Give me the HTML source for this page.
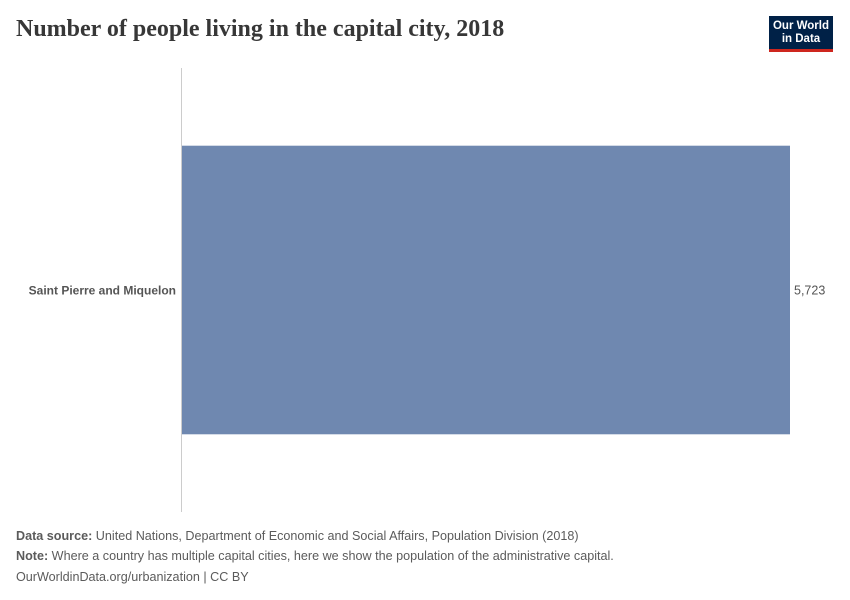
<!DOCTYPE html>
<html><head><meta charset="utf-8"><style>
body{margin:0;background:#fff;width:850px;height:600px;overflow:hidden;position:relative;font-family:"Liberation Sans",sans-serif}
.t{position:absolute;white-space:nowrap}
</style></head><body>
<div class="t" style="left:16px;top:16px;font-family:'Liberation Serif',serif;font-weight:bold;font-size:24px;color:#373737;">Number of people living in the capital city, 2018</div>
<div style="position:absolute;left:769px;top:16px;width:64px;height:36px;background:#002147;border-bottom:3px solid #ce261e;box-sizing:border-box;color:#fff;font-size:11.5px;font-weight:bold;line-height:13px;text-align:center;padding-top:4px;">Our World<br>in Data</div>
<svg id="chart" width="850" height="600" style="position:absolute;left:0;top:0"></svg>
<div class="t" style="left:16px;top:529px;font-size:12.6px;color:#5b5b5b"><b>Data source:</b> United Nations, Department of Economic and Social Affairs, Population Division (2018)</div>
<div class="t" style="left:16px;top:549px;font-size:12.6px;color:#5b5b5b"><b>Note:</b> Where a country has multiple capital cities, here we show the population of the administrative capital.</div>
<div class="t" style="left:16px;top:570px;font-size:12.6px;color:#5b5b5b">OurWorldinData.org/urbanization | CC BY</div>
<script>
const categories=["Saint Pierre and Miquelon"];
const values=[5723];
const valueLabels=["5,723"];
const svg=document.getElementById('chart');
const NS='http://www.w3.org/2000/svg';
const x0=182,x1=790,yTop=68,yBot=512;
const maxV=Math.max(...values);
const xs=v=>x0+(v/maxV)*(x1-x0);
const band=(yBot-yTop)/categories.length;
const axis=document.createElementNS(NS,'line');


axis.setAttribute('x1',181.5);axis.setAttribute('x2',181.5);axis.setAttribute('y1',yTop);axis.setAttribute('y2',yBot);
axis.setAttribute('stroke','#ccc');svg.appendChild(axis);
categories.forEach((c,i)=>{
 const by=yTop+band*i+band*0.175, bh=band*0.65;
 const r=document.createElementNS(NS,'rect');
 
 
 r.setAttribute('x',x0);r.setAttribute('y',by);r.setAttribute('width',xs(values[i])-x0);r.setAttribute('height',bh);
 r.setAttribute('fill','#6f88b0');svg.appendChild(r);
 const cy=by+bh/2+4.5;
 const l=document.createElementNS(NS,'text');
 
 
 l.setAttribute('x',176);l.setAttribute('y',cy);l.setAttribute('text-anchor','end');
 l.setAttribute('font-size','12');l.setAttribute('font-weight','bold');l.setAttribute('fill','#555');
 l.textContent=c;svg.appendChild(l);
 const v=document.createElementNS(NS,'text');
 
 
 v.setAttribute('x',xs(values[i])+4);v.setAttribute('y',cy);
 v.setAttribute('font-size','12.5');v.setAttribute('fill','#555');
 v.textContent=valueLabels[i];svg.appendChild(v);
});
</script>
</body></html>
